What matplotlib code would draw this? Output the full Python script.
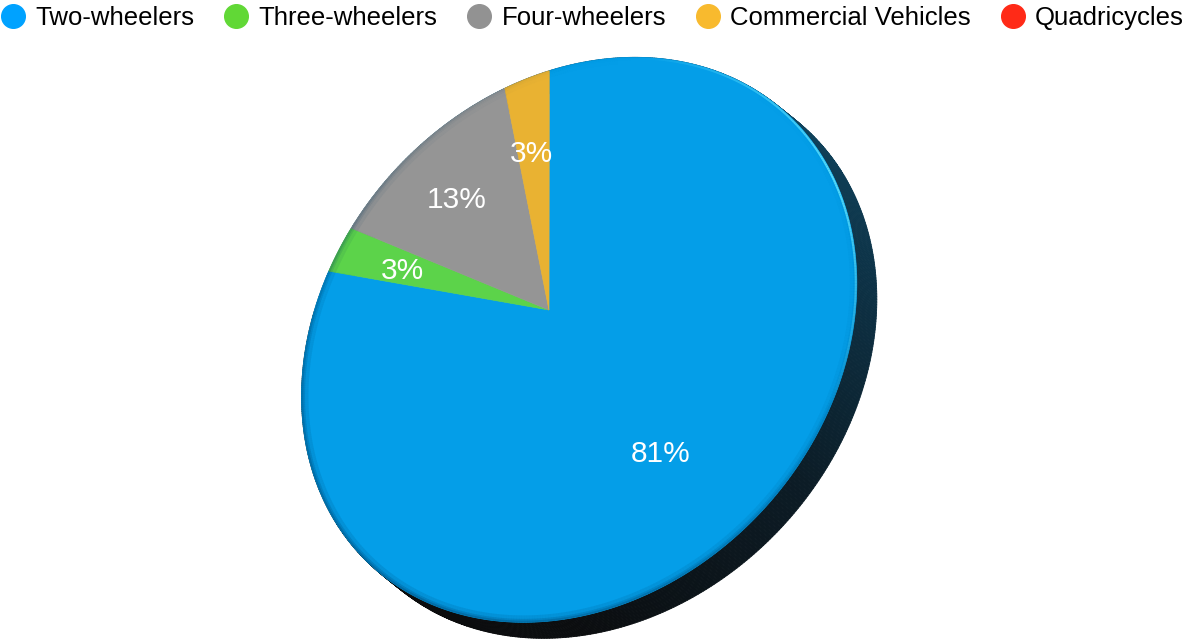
import numpy as np
import matplotlib.pyplot as plt
from matplotlib.patches import Polygon
from matplotlib.collections import PolyCollection, LineCollection
from matplotlib.colors import LinearSegmentedColormap, to_rgba
from matplotlib.lines import Line2D

plt.rcParams['font.family'] = ['Liberation Sans', 'DejaVu Sans']

categories = ['Two-wheelers', 'Three-wheelers', 'Four-wheelers', 'Commercial Vehicles', 'Quadricycles']
shares = [81, 3, 13, 3, 0]
legend_colors = ['#00A2FF', '#61D836', '#929292', '#F8BA2E', '#FF2A17']
slice_colors = ['#049EE8', '#5CD34A', '#959595', '#E9B232', '#EE2A17']

W, H = 1186, 639
fig = plt.figure(figsize=(W / 100, H / 100), dpi=100)
ax = fig.add_axes([0, 0, 1, 1])
ax.set_xlim(0, W)
ax.set_ylim(H, 0)
ax.axis('off')

# perspective view of the unit disc (homography, disc centre -> cx, cy)
cx, cy = 549.0, 310.0
view = np.array([[212.76, 72.0, cx],
                 [-92.52, -229.99, cy],
                 [-0.107918, 0.13065, 1.0]])


def project(x, y):
    q = view @ np.vstack([x, y, np.ones_like(x)])
    return q[0] / q[2], q[1] / q[2]


# side wall of the disc
t = np.radians(np.linspace(0, 360, 721))
ux, uy = project(np.cos(t), np.sin(t))
top = np.column_stack([ux, uy])
bot = top + np.array([20, 16])
quads = [np.array([top[i], top[i + 1], bot[i + 1], bot[i]]) for i in range(len(t) - 1)]
phi = np.degrees(np.arctan2(-(uy - cy), ux - cx))
phim = phi[:-1]
side_cmap = LinearSegmentedColormap.from_list(
    'side', [(0, '#114d6a'), (0.25, '#0d3246'), (0.45, '#0c1c26'), (0.7, '#0b0d0f'), (1, '#0a0a0a')])
s = np.clip((60 - phim) / 210, 0, 1)
side = PolyCollection(quads, facecolors=side_cmap(s), edgecolors=side_cmap(s), linewidths=0.6, zorder=1)
ax.add_collection(side)

# slices of the top face, clockwise from 12 o'clock
bounds = 90.0 - 3.6 * np.concatenate([[0], np.cumsum(shares)])
for i, share in enumerate(shares):
    if share <= 0:
        continue
    th = np.radians(np.linspace(bounds[i], bounds[i + 1], max(int(share * 8), 4)))
    xs = np.concatenate([[0], np.cos(th)])
    ys = np.concatenate([[0], np.sin(th)])
    px, py = project(xs, ys)
    ax.add_patch(Polygon(np.column_stack([px, py]), closed=True, fc=slice_colors[i],
                         ec=slice_colors[i], lw=0.5, zorder=2))
    mid = np.radians((bounds[i] + bounds[i + 1]) / 2)
    lx, ly = project(np.array([0.66 * np.cos(mid)]), np.array([0.66 * np.sin(mid)]))
    ax.text(lx[0] - 2, ly[0], f'{share}%', color='white', fontsize=21.5,
            ha='center', va='center_baseline', zorder=5)

# rim shading and highlight, kept inside the top face
outline = Polygon(top, closed=True, fc='none', ec='none')
ax.add_patch(outline)
segs = np.stack([top[:-1], top[1:]], axis=1)
w_dark = 1 - 0.5 * (1 - np.cos(np.radians(phim + 120)))
for lw, a in [(10, 0.12), (5, 0.18), (2.5, 0.25)]:
    cols = np.zeros((len(segs), 4))
    cols[:, :3] = to_rgba('#00365e')[:3]
    cols[:, 3] = a * np.clip(w_dark, 0, 1)
    lc = LineCollection(segs, colors=cols, linewidths=lw, zorder=3)
    lc.set_clip_path(outline)
    ax.add_collection(lc)
hl = np.clip(1 - np.abs(phim - 25) / 45, 0, 1)
cols = np.zeros((len(segs), 4))
cols[:, :3] = to_rgba('#5fe3ff')[:3]
cols[:, 3] = 0.9 * hl
lc = LineCollection(segs, colors=cols, linewidths=3, zorder=3)
lc.set_clip_path(outline)
ax.add_collection(lc)

handles = [Line2D([], [], ls='none', marker='o', ms=17, mfc=c, mec=c) for c in legend_colors]
fig.legend(handles, categories, loc='center', bbox_to_anchor=(0.5, 1 - 18 / H), ncol=5, frameon=False,
           fontsize=18.5, handlelength=0.85, handletextpad=0.45, columnspacing=1.2, borderpad=0,
           borderaxespad=0)

fig.savefig('out.png', dpi=100)
